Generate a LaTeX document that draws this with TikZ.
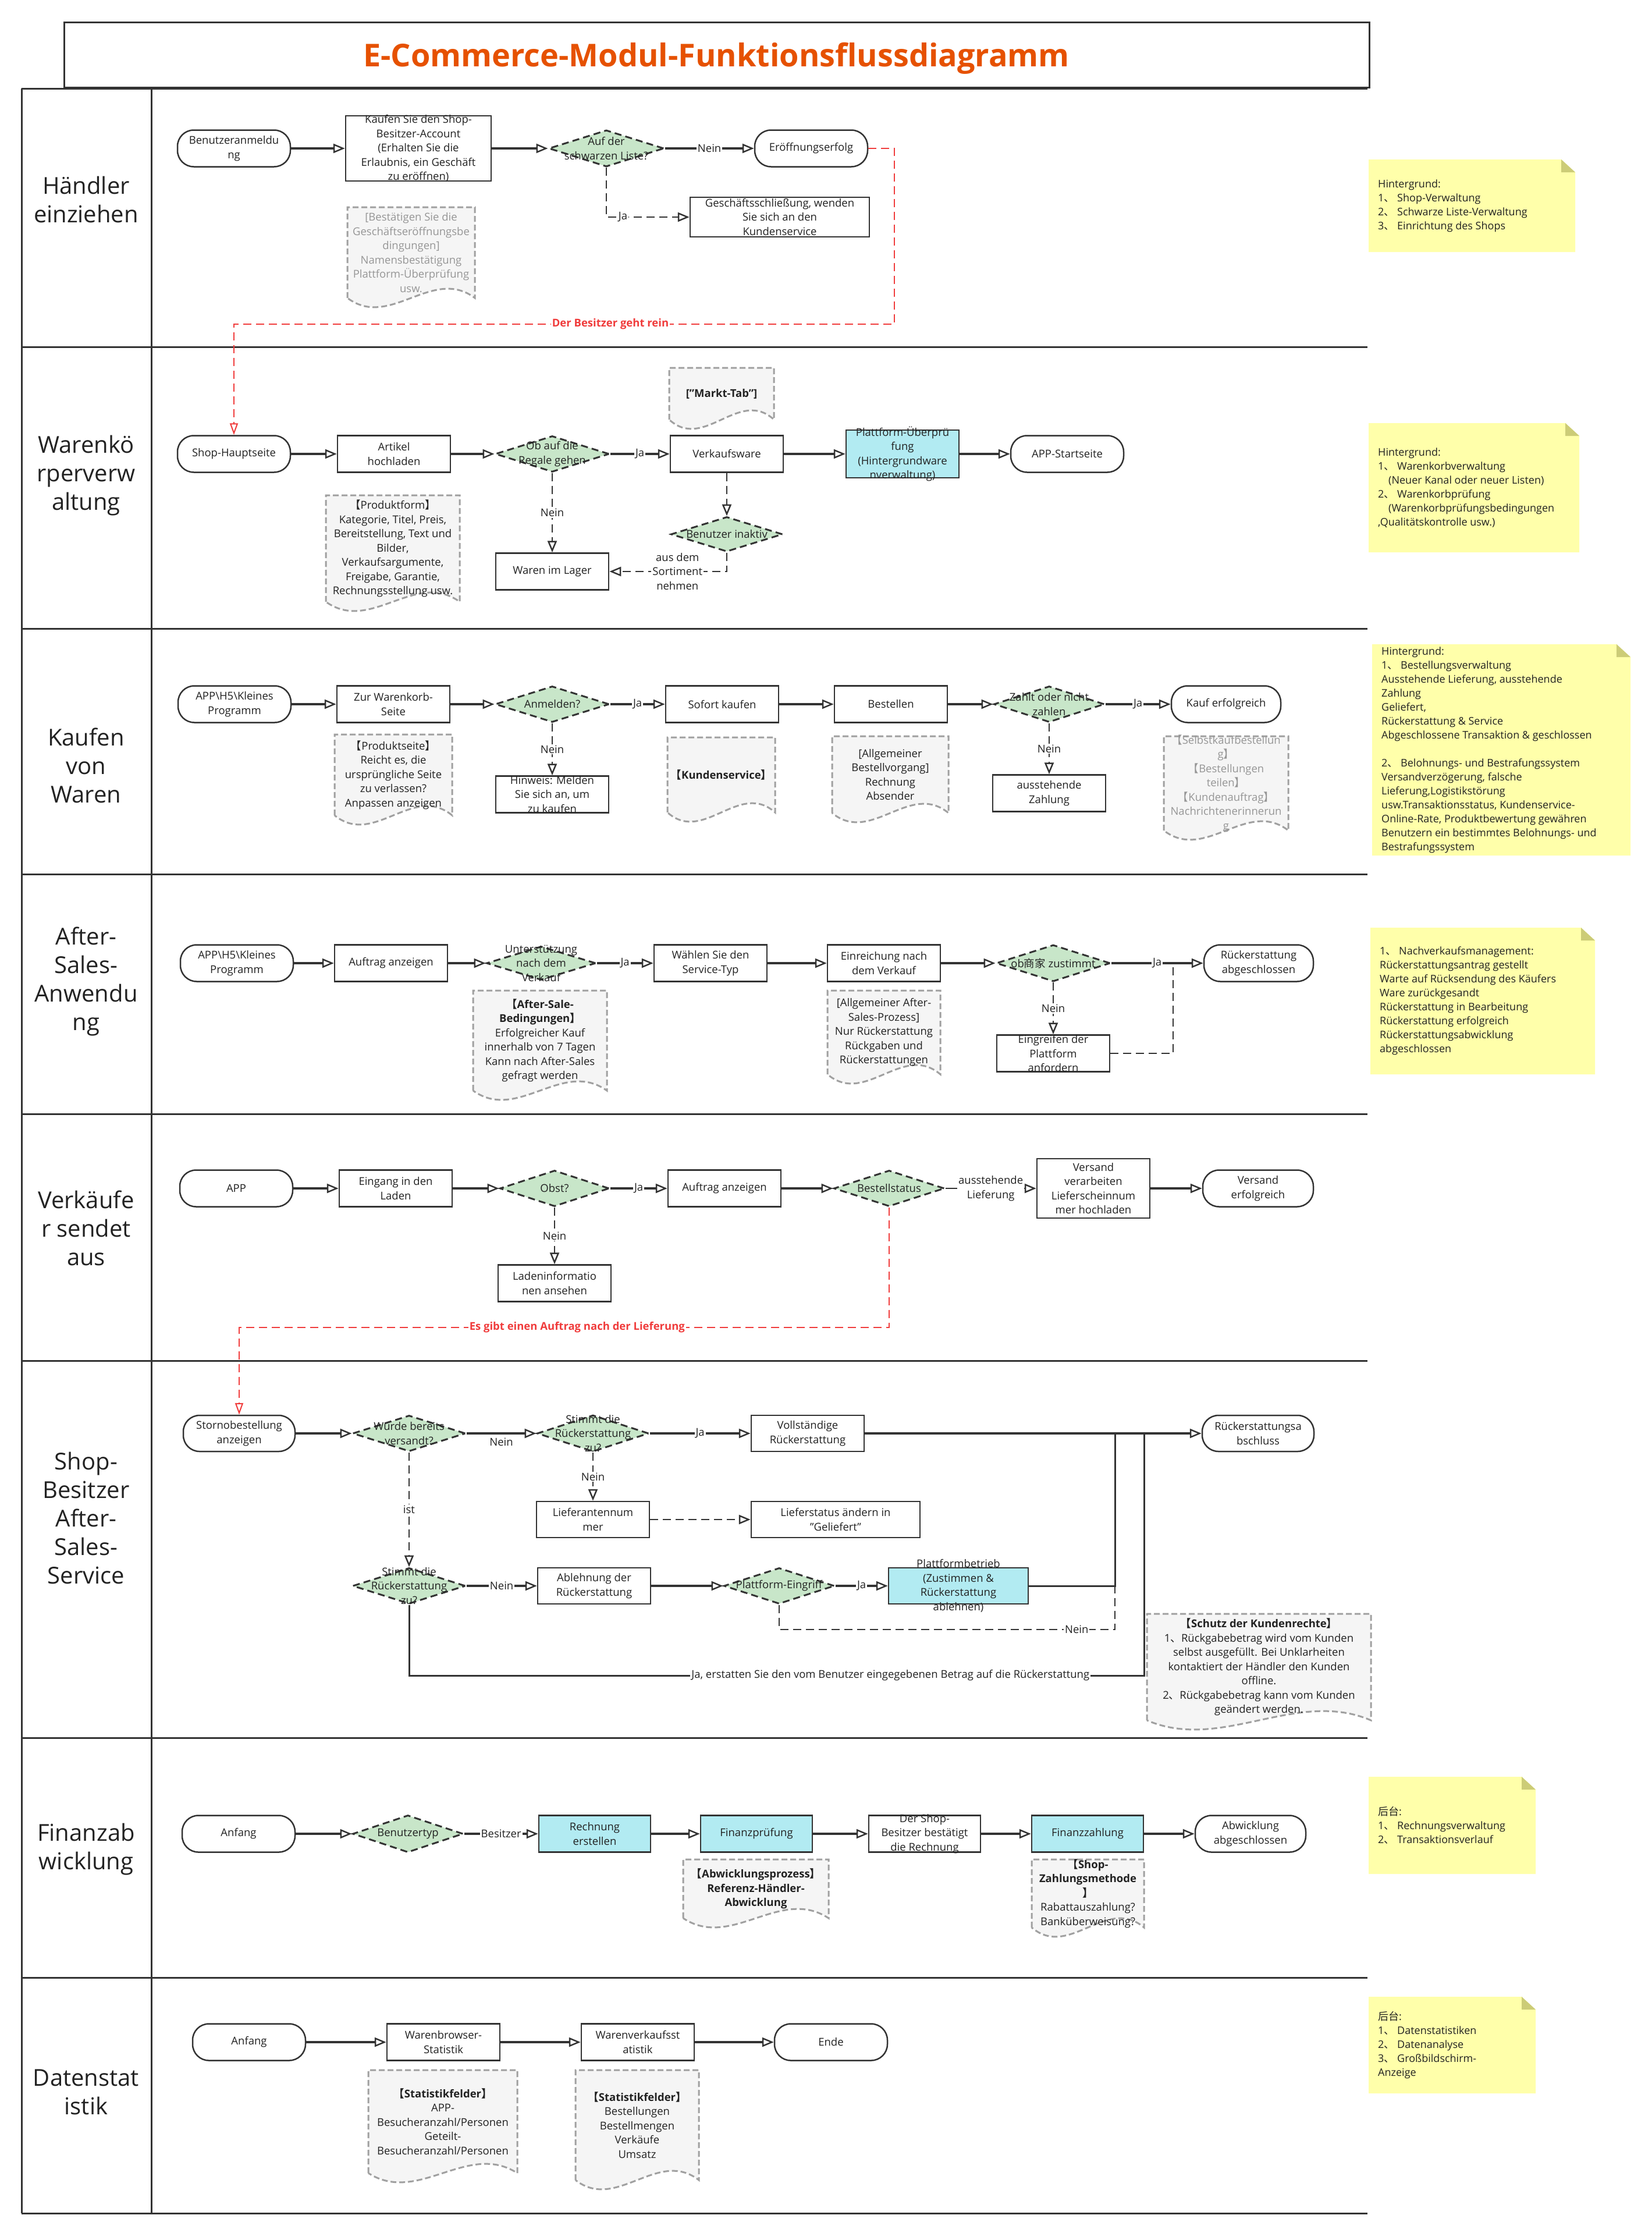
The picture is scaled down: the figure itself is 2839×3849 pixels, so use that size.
\documentclass[tikz,border=0pt]{standalone}
\usepackage{fontspec}
\setmainfont{Open Sans}
\newfontfamily\cjk{Noto Sans CJK SC}
\usetikzlibrary{arrows.meta,shapes.geometric}
\definecolor{cTxt}{RGB}{34,34,34}
\definecolor{cEdge}{RGB}{51,51,51}
\definecolor{cGreen}{RGB}{200,230,201}
\definecolor{cCyan}{RGB}{178,235,242}
\definecolor{cDocFill}{RGB}{245,245,245}
\definecolor{cDocEdge}{RGB}{160,160,160}
\definecolor{cRed}{RGB}{240,60,60}
\definecolor{cNote}{RGB}{255,255,170}
\definecolor{cFold}{RGB}{204,204,119}
\definecolor{cOrange}{RGB}{230,81,0}
\definecolor{cGray}{RGB}{150,150,150}
\newcommand\nodefont{\fontsize{18.5pt}{24.5pt}\selectfont}
\newcommand\myLB{{\cjk 【}}
\newcommand\myRB{{\cjk 】}}
\newcommand\myIC{{\cjk 、}}
\tikzset{
 nbase/.style={draw=cEdge, line width=2.5pt, minimum width=194pt, minimum height=63pt, inner sep=0pt},
 nterm/.style={nbase, fill=white, rounded corners=28pt},
 nbox/.style={nbase, fill=white},
 ncbox/.style={nbase, fill=cCyan},
 ndec/.style={diamond, draw=cEdge, line width=3pt, dash pattern=on 12pt off 7pt, fill=cGreen, minimum width=196pt, minimum height=62pt, inner sep=0pt},
 lbl/.style={align=center, inner sep=0pt, font=\nodefont, text=cTxt},
 nflow/.style={draw=cEdge, line width=3.5pt, -{Triangle[open, length=20pt, width=16pt, line width=2.5pt]}},
 tflow/.style={nflow, line width=2pt},
 dflow/.style={draw=cEdge, line width=2.5pt, dash pattern=on 14pt off 8pt, -{Triangle[open, length=20pt, width=16pt, line width=2.5pt]}},
 dline/.style={draw=cEdge, line width=2.5pt, dash pattern=on 14pt off 8pt},
 sline/.style={draw=cEdge, line width=3pt},
 rflow/.style={draw=cRed, line width=2.5pt, dash pattern=on 14pt off 8pt, -{Triangle[open, length=20pt, width=14pt, line width=2pt]}},
 lab/.style={fill=white, inner sep=2pt, font=\nodefont, text=cTxt, align=center},
 rlab/.style={fill=white, inner sep=2pt, font=\nodefont\bfseries, text=cRed},
 docsty/.style={draw=cDocEdge, fill=cDocFill, line width=3pt, dash pattern=on 10pt off 5pt},
 notetxt/.style={align=left, inner sep=0pt, font=\fontsize{18pt}{24pt}\selectfont, text=cTxt},
 lanelbl/.style={align=center, font=\fontsize{40pt}{49pt}\selectfont, text=cTxt},
 laneline/.style={draw=cEdge, line width=3pt},
}
\newcommand\mkn[4]{\node[#1] (#2) at (#3) {}; \node[lbl] (#2-t) at (#2.center) {#4};}
\newcommand\docbox[7][]{%
  \pgfmathsetmacro\mydE{#6-16}%
  \draw[docsty] (#3,\mydE) -- (#3,#4) -- (#5,#4) -- (#5,\mydE) .. controls ({#5-(#5-#3)/3},{\mydE-55}) and ({#3+(#5-#3)/3},{\mydE+55}) .. (#3,\mydE) -- cycle;
  \node[lbl,#1] (#2) at ({(#3+#5)/2},{(#4+\mydE)/2}) {#7};
}
\newcommand\notebox[6]{%
  \fill[cNote] (#2,#3) -- ({#4-24},#3) -- (#4,{#3+22}) -- (#4,#5) -- (#2,#5) -- cycle;
  \fill[cFold] ({#4-24},#3) -- (#4,{#3+22}) -- ({#4-24},{#3+22}) -- cycle;
  \node[notetxt, anchor=west] (#1) at ({#2+16},{(#3+#5)/2}) {#6};
}
\begin{document}
\begin{tikzpicture}[x=1pt,y=-1pt]
\fill[white] (0,0) rectangle (2839,3849);
\useasboundingbox (0,0) rectangle (2839,3849);

% title
\draw[cEdge, line width=3pt] (110,38) rectangle (2353,150);
\node[font=\fontsize{54pt}{60pt}\selectfont\bfseries, text=cOrange, anchor=base] (title) at (1231,114) {E-Commerce-Modul-Funktionsflussdiagramm};

% lanes
\foreach \yy in {152,596,1080,1502,1914,2338,2986,3398,3803} \draw[laneline] (37,\yy) -- (2350,\yy);
\draw[laneline] (37,152) -- (37,3803);
\draw[laneline] (260,152) -- (260,3803);
\node[lanelbl] (L1) at (148,343) {Händler\\einziehen};
\node[lanelbl] (L2) at (148,817) {Warenkö\\rperverw\\altung};
\node[lanelbl] (L3) at (148,1315) {Kaufen\\von\\Waren};
\node[lanelbl] (L4) at (148,1686) {After-\\Sales-\\Anwendu\\ng};
\node[lanelbl] (L5) at (148,2110) {Verkäufe\\r sendet\\aus};
\node[lanelbl] (L6) at (148,2608) {Shop-\\Besitzer\\After-\\Sales-\\Service};
\node[lanelbl] (L7) at (148,3178) {Finanzab\\wicklung};
\node[lanelbl] (L8) at (148,3595) {Datenstat\\istik};

% notes
\notebox{n1}{2352}{274}{2707}{433}{Hintergrund:\\1\myIC\ Shop-Verwaltung\\2\myIC\ Schwarze Liste-Verwaltung\\3\myIC\ Einrichtung des Shops}
\notebox{n2}{2352}{727}{2714}{949}{Hintergrund:\\1\myIC\ Warenkorbverwaltung\\\quad(Neuer Kanal oder neuer Listen)\\2\myIC\ Warenkorbprüfung\\\quad(Warenkorbprüfungsbedingungen\\,Qualitätskontrolle usw.)}
\notebox{n3}{2358}{1107}{2802}{1470}{Hintergrund:\\1\myIC\ Bestellungsverwaltung\\Ausstehende Lieferung, ausstehende\\Zahlung\\Geliefert,\\Rückerstattung \& Service\\Abgeschlossene Transaktion \& geschlossen\\[24pt]2\myIC\ Belohnungs- und Bestrafungssystem\\Versandverzögerung, falsche\\Lieferung,Logistikstörung\\usw.Transaktionsstatus, Kundenservice-\\Online-Rate, Produktbewertung gewähren\\Benutzern ein bestimmtes Belohnungs- und\\Bestrafungssystem}
\notebox{n4}{2355}{1594}{2741}{1846}{1\myIC\ Nachverkaufsmanagement:\\Rückerstattungsantrag gestellt\\Warte auf Rücksendung des Käufers\\Ware zurückgesandt\\Rückerstattung in Bearbeitung\\Rückerstattung erfolgreich\\Rückerstattungsabwicklung\\abgeschlossen}
\notebox{n5}{2352}{3053}{2639}{3220}{{\cjk 后台}:\\1\myIC\ Rechnungsverwaltung\\2\myIC\ Transaktionsverlauf}
\notebox{n6}{2352}{3431}{2639}{3597}{{\cjk 后台}:\\1\myIC\ Datenstatistiken\\2\myIC\ Datenanalyse\\3\myIC\ Großbildschirm-\\Anzeige}

% documents
\docbox[text=cGray]{doc1}{597}{356}{816}{528}{[Bestätigen Sie die\\Geschäftseröffnungsbe\\dingungen]\\Namensbestätigung\\Plattform-Überprüfung\\usw.}
\docbox[font=\nodefont\bfseries]{doc2a}{1150}{632}{1330}{737}{["Markt-Tab"]}
\docbox{doc2b}{560}{851}{790}{1050}{\myLB Produktform\myRB\\Kategorie, Titel, Preis,\\Bereitstellung, Text und\\Bilder,\\Verkaufsargumente,\\Freigabe, Garantie,\\Rechnungsstellung usw.}
\docbox{doc3a}{575}{1262}{777}{1417}{\myLB Produktseite\myRB\\Reicht es, die\\ursprüngliche Seite\\zu verlassen?\\Anpassen anzeigen}
\docbox[font=\nodefont\bfseries]{doc3b}{1147}{1267}{1332}{1412}{\myLB Kundenservice\myRB}
\docbox{doc3c}{1430}{1265}{1630}{1413}{[Allgemeiner\\Bestellvorgang]\\Rechnung\\Absender}
\docbox[text=cGray]{doc3d}{2000}{1265}{2214}{1443}{\myLB Selbstkaufbestellun\\g\myRB\\\myLB Bestellungen\\teilen\myRB\\\myLB Kundenauftrag\myRB\\Nachrichtenerinnerun\\g}
\docbox{doc4a}{813}{1702}{1043}{1890}{\textbf{\myLB After-Sale-}\\\textbf{Bedingungen\myRB}\\Erfolgreicher Kauf\\innerhalb von 7 Tagen\\Kann nach After-Sales\\gefragt werden}
\docbox{doc4b}{1422}{1702}{1616}{1862}{[Allgemeiner After-\\Sales-Prozess]\\Nur Rückerstattung\\Rückgaben und\\Rückerstattungen}
\docbox{doc6}{1971}{2773}{2356}{2972}{\textbf{\myLB Schutz der Kundenrechte\myRB}\\1\myIC Rückgabebetrag wird vom Kunden\\selbst ausgefüllt. Bei Unklarheiten\\kontaktiert der Händler den Kunden\\offline.\\2\myIC Rückgabebetrag kann vom Kunden\\geändert werden.}
\docbox[font=\nodefont\bfseries]{doc7a}{1174}{3195}{1424}{3312}{\myLB Abwicklungsprozess\myRB\\Referenz-Händler-\\Abwicklung}
\docbox{doc7b}{1773}{3195}{1966}{3328}{\textbf{\myLB Shop-}\\\textbf{Zahlungsmethode}\\\textbf{\myRB}\\Rabattauszahlung?\\Banküberweisung?}
\docbox{doc8a}{633}{3557}{889}{3750}{\textbf{\myLB Statistikfelder\myRB}\\APP-\\Besucheranzahl/Personen\\Geteilt-\\Besucheranzahl/Personen}
\docbox{doc8b}{989}{3557}{1201}{3762}{\textbf{\myLB Statistikfelder\myRB}\\Bestellungen\\Bestellmengen\\Verkäufe\\Umsatz}

% lane 1
\mkn{nterm}{b1}{402,255}{Benutzeranmeldu\\ng}
\mkn{nbox, minimum width=250pt, minimum height=112pt}{k1}{719,255}{Kaufen Sie den Shop-\\Besitzer-Account\\(Erhalten Sie die\\Erlaubnis, ein Geschäft\\zu eröffnen)}
\mkn{ndec, minimum width=198pt, minimum height=63pt}{d1}{1042,255}{Auf der\\schwarzen Liste?}
\mkn{nterm}{e1}{1394,255}{Eröffnungserfolg}
\mkn{nbox, minimum width=308pt, minimum height=68pt}{g1}{1340,373}{Geschäftsschließung, wenden\\Sie sich an den\\Kundenservice}

% lane 2
\mkn{nterm}{s2}{402,780}{Shop-Hauptseite}
\mkn{nbox}{a2}{677,780}{Artikel\\hochladen}
\mkn{ndec}{d2}{949,780}{Ob auf die\\Regale gehen}
\mkn{nbox}{v2}{1249,780}{Verkaufsware}
\mkn{ncbox, minimum height=82pt}{p2}{1551,780}{Plattform-Überprü\\fung\\(Hintergrundware\\nverwaltung)}
\mkn{nterm}{app2}{1834,780}{APP-Startseite}
\mkn{ndec, minimum width=192pt, minimum height=60pt}{i2}{1249,918}{Benutzer inaktiv}
\mkn{nbox}{w2}{949,982}{Waren im Lager}

% lane 3
\mkn{nterm}{a3}{403,1210}{APP\textbackslash H5\textbackslash Kleines\\Programm}
\mkn{nbox}{z3}{676,1210}{Zur Warenkorb-\\Seite}
\mkn{ndec}{m3}{949,1210}{Anmelden?}
\mkn{nbox}{s3}{1241,1210}{Sofort kaufen}
\mkn{nbox}{b3}{1531,1210}{Bestellen}
\mkn{ndec, minimum width=190pt}{p3}{1803,1210}{Zahlt oder nicht\\zahlen}
\mkn{nterm, minimum width=188pt}{k3}{2107,1210}{Kauf erfolgreich}
\mkn{nbox}{h3}{949,1365}{Hinweis: Melden\\Sie sich an, um\\zu kaufen}
\mkn{nbox}{az3}{1803,1363}{ausstehende\\Zahlung}

% lane 4
\mkn{nterm}{a4}{407,1655}{APP\textbackslash H5\textbackslash Kleines\\Programm}
\mkn{nbox}{o4}{672,1655}{Auftrag anzeigen}
\mkn{ndec, minimum width=188pt, minimum height=58pt}{u4}{930,1655}{Unterstützung\\nach dem\\Verkauf}
\mkn{nbox}{w4}{1221,1655}{Wählen Sie den\\Service-Typ}
\mkn{nbox}{e4}{1519,1655}{Einreichung nach\\dem Verkauf}
\mkn{ndec, minimum height=63pt}{z4}{1810,1655}{ob{\cjk 商家} zustimmt}
\mkn{nterm, minimum width=188pt}{r4}{2163,1655}{Rückerstattung\\abgeschlossen}
\mkn{nbox}{g4}{1810,1810}{Eingreifen der\\Plattform\\anfordern}

% lane 5
\mkn{nterm}{a5}{406,2042}{APP}
\mkn{nbox}{e5}{680,2042}{Eingang in den\\Laden}
\mkn{ndec, minimum width=188pt}{o5}{953,2042}{Obst?}
\mkn{nbox}{f5}{1245,2042}{Auftrag anzeigen}
\mkn{ndec, minimum width=190pt}{b5}{1528,2042}{Bestellstatus}
\mkn{nbox, minimum height=102pt}{v5}{1879,2042}{Versand\\verarbeiten\\Lieferscheinnum\\mer hochladen}
\mkn{nterm, minimum width=190pt}{s5}{2162,2042}{Versand\\erfolgreich}
\mkn{nbox}{l5}{953,2205}{Ladeninformatio\\nen ansehen}

% lane 6
\mkn{nterm, minimum width=192pt, minimum height=62pt}{st6}{411,2463}{Stornobestellung\\anzeigen}
\mkn{ndec, minimum width=194pt}{w6}{703,2463}{Wurde bereits\\versandt?}
\mkn{ndec, minimum width=192pt, minimum height=63pt}{s6}{1019,2463}{Stimmt die\\Rückerstattung\\zu?}
\mkn{nbox, minimum height=62pt}{v6}{1388,2463}{Vollständige\\Rückerstattung}
\mkn{nterm, minimum width=192pt, minimum height=62pt}{r6}{2162,2463}{Rückerstattungsa\\bschluss}
\mkn{nbox, minimum height=62pt}{l6}{1019,2611}{Lieferantennum\\mer}
\mkn{nbox, minimum width=290pt, minimum height=62pt}{ls6}{1436,2611}{Lieferstatus ändern in\\"Geliefert"}
\mkn{ndec, minimum width=194pt}{s6b}{703,2725}{Stimmt die\\Rückerstattung\\zu?}
\mkn{nbox, minimum height=62pt}{ab6}{1021,2725}{Ablehnung der\\Rückerstattung}
\mkn{ndec, minimum width=190pt}{pe6}{1339,2725}{Plattform-Eingriff}
\mkn{ncbox, minimum width=240pt, minimum height=62pt}{pb6}{1647,2725}{Plattformbetrieb\\(Zustimmen \&\\Rückerstattung\\ablehnen)}

% lane 7
\mkn{nterm}{an7}{410,3151}{Anfang}
\mkn{ndec, minimum width=190pt, minimum height=64pt}{bt7}{701,3151}{Benutzertyp}
\mkn{ncbox, minimum width=192pt}{re7}{1022,3151}{Rechnung\\erstellen}
\mkn{ncbox, minimum width=192pt}{fp7}{1300,3151}{Finanzprüfung}
\mkn{nbox, minimum width=192pt}{ds7}{1589,3151}{Der Shop-\\Besitzer bestätigt\\die Rechnung}
\mkn{ncbox, minimum width=192pt}{fz7}{1869,3151}{Finanzzahlung}
\mkn{nterm, minimum width=190pt}{ab7}{2149,3151}{Abwicklung\\abgeschlossen}

% lane 8
\mkn{nterm}{an8}{428,3509}{Anfang}
\mkn{nbox}{wb8}{762,3509}{Warenbrowser-\\Statistik}
\mkn{nbox}{wv8}{1096,3509}{Warenverkaufsst\\atistik}
\mkn{nterm}{en8}{1428,3509}{Ende}

% connectors lane 1
\draw[nflow] (b1) -- (k1);
\draw[nflow] (k1) -- (d1);
\draw[nflow] (d1) -- node[lab]{Nein} (e1);
\draw[dflow] (d1.south) |- node[lab, pos=0.6]{Ja} (g1.west);
\draw[rflow] (e1.east) -- (1537,255) -- (1537,557) -- node[rlab, pos=0.43]{Der Besitzer geht rein} (402,557) -- (s2.north);

% lane 2
\draw[nflow] (s2) -- (a2);
\draw[nflow] (a2) -- (d2);
\draw[nflow] (d2) -- node[lab]{Ja} (v2);
\draw[nflow] (v2) -- (p2);
\draw[nflow] (p2) -- (app2);
\draw[dflow] (d2) -- node[lab]{Nein} (w2);
\draw[dflow] (v2) -- (i2);
\draw[dflow] (i2.south) |- node[lab, pos=0.71]{aus dem\\Sortiment\\nehmen} (w2.east);

% lane 3
\draw[nflow] (a3) -- (z3);
\draw[nflow] (z3) -- (m3);
\draw[nflow] (m3) -- node[lab]{Ja} (s3);
\draw[nflow] (s3) -- (b3);
\draw[nflow] (b3) -- (p3);
\draw[nflow] (p3) -- node[lab]{Ja} (k3);
\draw[dflow] (m3) -- node[lab]{Nein} (h3);
\draw[dflow] (p3) -- node[lab]{Nein} (az3);

% lane 4
\draw[nflow] (a4) -- (o4);
\draw[nflow] (o4) -- (u4);
\draw[nflow] (u4) -- node[lab]{Ja} (w4);
\draw[nflow] (w4) -- (e4);
\draw[nflow] (e4) -- (z4);
\draw[nflow] (z4) -- node[lab]{Ja} (r4);
\draw[dflow] (z4) -- node[lab]{Nein} (g4);
\draw[dline] (g4.east) -- (2016,1810) -- (2016,1655);

% lane 5
\draw[nflow] (a5) -- (e5);
\draw[nflow] (e5) -- (o5);
\draw[nflow] (o5) -- node[lab]{Ja} (f5);
\draw[nflow] (f5) -- (b5);
\draw[tflow] (b5) -- node[lab]{ausstehende\\Lieferung} (v5);
\draw[nflow] (v5) -- (s5);
\draw[dflow] (o5) -- node[lab]{Nein} (l5);
\draw[rflow] (b5.south) -- (1528,2281) -- node[rlab, pos=0.48]{Es gibt einen Auftrag nach der Lieferung} (411,2281) -- (st6.north);

% lane 6
\draw[nflow] (st6) -- (w6);
\draw[nflow] (w6) -- node[lab, below=4pt, fill=none]{Nein} (s6);
\draw[nflow] (s6) -- node[lab]{Ja} (v6);
\draw[dflow] (s6) -- node[lab]{Nein} (l6);
\draw[dflow] (l6) -- (ls6);
\draw[dflow] (w6) -- node[lab]{ist} (s6b);
\draw[nflow] (s6b) -- node[lab]{Nein} (ab6);
\draw[nflow] (ab6) -- (pe6);
\draw[nflow] (pe6) -- node[lab]{Ja} (pb6);
\draw[dline] (pe6.south) -- (1339,2800) -- node[lab, pos=0.886]{Nein} (1916,2800) -- (1916,2725);
\draw[sline] (pb6.east) -- (1916,2725) -- (1916,2463);
\draw[sline] (s6b.south) -- (703,2879) -- node[lab, pos=0.655]{Ja, erstatten Sie den vom Benutzer eingegebenen Betrag auf die Rückerstattung} (1966,2879) -- (1966,2463);
\draw[nflow] (v6) -- (r6);

% lane 7
\draw[nflow] (an7) -- (bt7);
\draw[nflow] (bt7) -- node[lab]{Besitzer} (re7);
\draw[nflow] (re7) -- (fp7);
\draw[nflow] (fp7) -- (ds7);
\draw[nflow] (ds7) -- (fz7);
\draw[nflow] (fz7) -- (ab7);

% lane 8
\draw[nflow] (an8) -- (wb8);
\draw[nflow] (wb8) -- (wv8);
\draw[nflow] (wv8) -- (en8);
\end{tikzpicture}
\end{document}
